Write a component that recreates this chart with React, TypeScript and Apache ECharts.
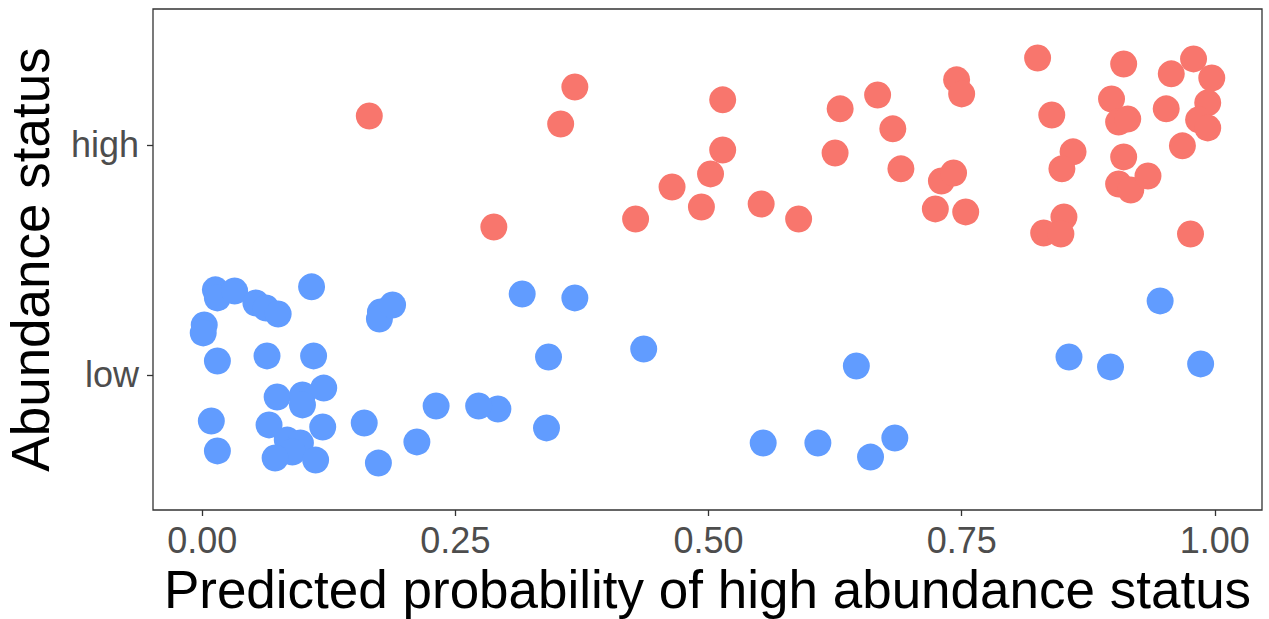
import React, { useEffect, useRef } from "react";
import * as echarts from "echarts";

const statusCategories = ["low", "high"];
const xTicks = [0, 0.25, 0.5, 0.75, 1];

const highX = [0.165, 0.288, 0.354, 0.368, 0.428, 0.464, 0.493, 0.502, 0.514, 0.514, 0.552, 0.589, 0.625, 0.63, 0.667, 0.682, 0.69, 0.73, 0.742, 0.724, 0.754, 0.745, 0.75, 0.825, 0.839, 0.86, 0.849, 0.851, 0.831, 0.848, 0.91, 0.898, 0.905, 0.914, 0.91, 0.905, 0.917, 0.934, 0.957, 0.979, 0.997, 0.952, 0.993, 0.984, 0.993, 0.968, 0.976];
const highY = [2.126, 1.643, 2.091, 2.252, 1.678, 1.817, 1.73, 1.874, 1.978, 2.196, 1.743, 1.678, 1.965, 2.157, 2.217, 2.07, 1.896, 1.843, 1.878, 1.722, 1.709, 2.283, 2.222, 2.378, 2.13, 1.97, 1.896, 1.687, 1.617, 1.613, 2.352, 2.2, 2.1, 2.113, 1.948, 1.83, 1.804, 1.865, 2.309, 2.374, 2.291, 2.157, 2.183, 2.109, 2.074, 1.996, 1.613];

const lowX = [0.013, 0.015, 0.032, 0.053, 0.063, 0.075, 0.002, 0.001, 0.108, 0.176, 0.175, 0.188, 0.015, 0.064, 0.11, 0.074, 0.099, 0.099, 0.12, 0.009, 0.066, 0.084, 0.097, 0.089, 0.072, 0.119, 0.112, 0.015, 0.16, 0.174, 0.212, 0.231, 0.316, 0.368, 0.342, 0.34, 0.292, 0.273, 0.436, 0.554, 0.608, 0.66, 0.684, 0.646, 0.856, 0.897, 0.986, 0.946];
const lowY = [1.37, 1.335, 1.365, 1.313, 1.291, 1.265, 1.217, 1.183, 1.383, 1.274, 1.243, 1.304, 1.061, 1.083, 1.083, 0.904, 0.913, 0.87, 0.943, 0.8, 0.783, 0.717, 0.704, 0.665, 0.639, 0.774, 0.63, 0.67, 0.791, 0.617, 0.709, 0.865, 1.352, 1.335, 1.078, 0.77, 0.852, 0.865, 1.113, 0.704, 0.704, 0.643, 0.726, 1.039, 1.078, 1.035, 1.048, 1.322];

const FONT = '"Liberation Sans", Arial, sans-serif';

export default function App() {
  const ref = useRef<HTMLDivElement>(null);
  useEffect(() => {
    const chart = echarts.init(ref.current!, null, { renderer: "svg" });
    const highData = highX.map((x, i) => [x, highY[i]]);
    const lowData = lowX.map((x, i) => [x, lowY[i]]);
    chart.setOption({
      animation: false,
      backgroundColor: "#ffffff",
      textStyle: { fontFamily: FONT },
      grid: {
        left: 153,
        top: 9,
        width: 1109,
        height: 501,
        containLabel: false,
        outerBoundsMode: "none",
        show: true,
        borderColor: "#333333",
        borderWidth: 1.3,
        backgroundColor: "#ffffff",
      },
      xAxis: {
        type: "value",
        min: -0.0486,
        max: 1.0466,
        name: "Predicted probability of high abundance status",
        nameLocation: "middle",
        nameGap: 53,
        nameTextStyle: { fontSize: 53, color: "#000000", fontFamily: FONT },
        axisLine: { show: false, onZero: false },
        splitLine: { show: false },
        axisTick: {
          show: true,
          customValues: xTicks,
          length: 6,
          lineStyle: { color: "#333333", width: 1.3 },
        },
        axisLabel: {
          customValues: xTicks,
          formatter: (v: number) => v.toFixed(2),
          fontSize: 36,
          color: "#4D4D4D",
          margin: 12,
          fontFamily: FONT,
        },
      },
      yAxis: {
        type: "value",
        min: 0.413,
        max: 2.591,
        name: "Abundance status",
        nameLocation: "middle",
        nameGap: 96,
        nameTextStyle: { fontSize: 53, color: "#000000", fontFamily: FONT },
        axisLine: { show: false, onZero: false },
        splitLine: { show: false },
        axisTick: {
          show: true,
          customValues: [1, 2],
          length: 6,
          lineStyle: { color: "#333333", width: 1.3 },
        },
        axisLabel: {
          customValues: [1, 2],
          formatter: (v: number) => statusCategories[Math.round(v) - 1] ?? "",
          fontSize: 36,
          color: "#4D4D4D",
          margin: 14,
          fontFamily: FONT,
        },
      },
      series: [
        {
          name: "high",
          type: "scatter",
          data: highData,
          symbol: "circle",
          symbolSize: 27,
          itemStyle: { color: "#F8766D", opacity: 1 },
          z: 3,
        },
        {
          name: "low",
          type: "scatter",
          data: lowData,
          symbol: "circle",
          symbolSize: 27,
          itemStyle: { color: "#619CFF", opacity: 1 },
          z: 3,
        },
      ],
    });
    return () => chart.dispose();
  }, []);
  return (
    <div
      ref={ref}
      style={{ position: "fixed", left: 0, top: 0, width: 1269, height: 619, background: "#ffffff" }}
    />
  );
}
